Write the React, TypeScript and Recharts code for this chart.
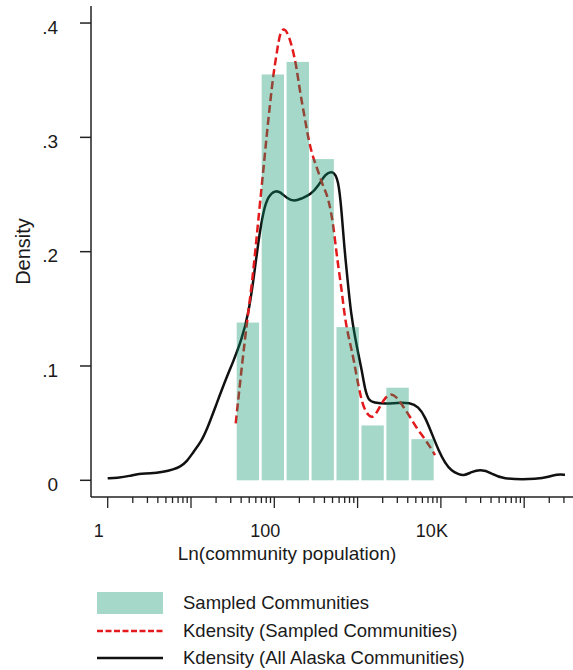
import React from "react";
import {
  ComposedChart,
  Line,
  XAxis,
  YAxis,
  ReferenceArea,
} from "recharts";

// x values are log10(population); the axis shows them as 1, 100, 10K
const binEdges = [1.533, 1.833, 2.132, 2.432, 2.731, 3.031, 3.33, 3.63, 3.929];
const binDensity = [0.138, 0.355, 0.366, 0.281, 0.134, 0.048, 0.081, 0.036];

const allX = [
  0, 0.11, 0.27, 0.37, 0.51, 0.67, 0.79, 0.87, 0.95, 1.03, 1.11, 1.19, 1.31,
  1.43, 1.5, 1.61, 1.69, 1.75, 1.81, 1.87, 1.93, 2.01, 2.07, 2.15, 2.24, 2.33,
  2.43, 2.53, 2.61, 2.7, 2.77, 2.81, 2.84, 2.88, 2.92, 2.97, 3.01, 3.05, 3.09,
  3.13, 3.19, 3.35, 3.47, 3.63, 3.73, 3.81, 3.89, 3.97, 4.05, 4.13, 4.21, 4.27,
  4.37, 4.47, 4.61, 4.71, 5.19, 5.29, 5.39, 5.49,
];
const allDensity = [
  0.0017, 0.002, 0.0038, 0.006, 0.0058, 0.0073, 0.0096, 0.0119, 0.0163, 0.025,
  0.0324, 0.044, 0.0676, 0.0906, 0.1026, 0.1233, 0.146, 0.175, 0.21, 0.2364,
  0.249, 0.2534, 0.2524, 0.2467, 0.2437, 0.2467, 0.2496, 0.2575, 0.268, 0.271,
  0.264, 0.2335, 0.2043, 0.175, 0.146, 0.125, 0.11, 0.0965, 0.079, 0.0702,
  0.0679, 0.0667, 0.0679, 0.0679, 0.0644, 0.0556, 0.0411, 0.0265, 0.0149,
  0.008, 0.0055, 0.0038, 0.0073, 0.0096, 0.0066, 0.0009, 0.0009, 0.0031,
  0.0052, 0.0049,
];

const sampledX = [
  1.537, 1.588, 1.648, 1.696, 1.736, 1.777, 1.808, 1.856, 1.909, 1.948, 1.988,
  2.029, 2.068, 2.12, 2.176, 2.228, 2.269, 2.308, 2.36, 2.408, 2.456, 2.509,
  2.588, 2.629, 2.689, 2.729, 2.768, 2.809, 2.84, 2.881, 2.948, 2.989, 3.029,
  3.068, 3.128, 3.188, 3.248, 3.309, 3.389, 3.469, 3.549, 3.629, 3.709, 3.789,
  3.869, 3.929,
];
const sampledDensity = [
  0.0499, 0.0846, 0.124, 0.152, 0.175, 0.2043, 0.2277, 0.262, 0.302, 0.3287,
  0.355, 0.3735, 0.392, 0.396, 0.389, 0.3749, 0.3604, 0.34, 0.3195, 0.2991,
  0.2845, 0.274, 0.2566, 0.251, 0.2335, 0.21, 0.1868, 0.1665, 0.146, 0.1286,
  0.108, 0.0906, 0.076, 0.0644, 0.0565, 0.0545, 0.0615, 0.0702, 0.0765, 0.0731,
  0.0644, 0.0556, 0.0455, 0.0381, 0.0294, 0.0221,
];

const majorTicks = [0, 1, 2, 3, 4, 5];
const majorLabels = ["1", "", "100", "", "10K", ""];
const yTicks = [0, 0.1, 0.2, 0.3, 0.4];

const xDomain: [number, number] = [-0.2005, 5.586];
const yDomain: [number, number] = [-0.0146, 0.4149];

const minorTicks: number[] = [];
majorTicks.forEach((d) => {
  for (let k = 2; k <= 9; k++) {
    const v = d + Math.log10(k);
    if (v < xDomain[1]) minorTicks.push(v);
  }
});
const xTicks = [...majorTicks, ...minorTicks].sort((a, b) => a - b);

const allData = allX.map((x, i) => ({ x, all: allDensity[i] }));
const sampledData = sampledX.map((x, i) => ({ x, sampled: sampledDensity[i] }));

const colors = {
  bar: "#059366",
  barLegend: "#a5d8c8",
  red: "#e31a1c",
  black: "#111111",
  axis: "#222222",
  text: "#1a1a1a",
};

const font = "'Liberation Sans', Arial, sans-serif";

const XTick = (props: any) => {
  const { x, y, payload } = props;
  const v = payload.value;
  const idx = majorTicks.findIndex((m) => Math.abs(m - v) < 1e-9);
  const major = idx >= 0;
  return (
    <g>
      <line
        x1={x}
        x2={x}
        y1={y}
        y2={y + (major ? 11 : 6)}
        stroke={colors.axis}
        strokeWidth={1.3}
      />
      {major && majorLabels[idx] !== "" && (
        <text
          x={x - 9}
          y={y + 40}
          textAnchor="middle"
          fontSize={18}
          fontFamily={font}
          fill={colors.text}
        >
          {majorLabels[idx]}
        </text>
      )}
    </g>
  );
};

const BinRect = (props: any) => {
  const { x, y, width, height } = props;
  return (
    <rect
      x={x + 1.3}
      y={y}
      width={Math.max(width - 2.6, 0)}
      height={height}
      fill={colors.bar}
      fillOpacity={0.36}
    />
  );
};

const legendText: React.CSSProperties = {
  position: "absolute",
  left: 183,
  fontSize: 18.5,
  fontFamily: font,
  color: colors.text,
  lineHeight: "22px",
  whiteSpace: "nowrap",
};

export default function App() {
  return (
    <div
      style={{
        position: "absolute",
        left: 0,
        top: 0,
        width: 573,
        height: 670,
        background: "#ffffff",
        fontFamily: font,
      }}
    >
      <ComposedChart
        width={573}
        height={670}
        margin={{ top: 6, right: 0, left: 6, bottom: 103 }}
      >
        <XAxis
          type="number"
          dataKey="x"
          domain={xDomain}
          allowDataOverflow
          ticks={xTicks}
          interval={0}
          tick={<XTick />}
          tickLine={false}
          tickSize={0}
          tickMargin={0}
          height={70}
          axisLine={{ stroke: colors.axis, strokeWidth: 1.5 }}
          label={{
            value: "Ln(community population)",
            position: "insideBottom",
            offset: 7,
            dx: -45,
            fontSize: 19,
            fontFamily: font,
            fill: colors.text,
          }}
        />
        <YAxis
          type="number"
          domain={yDomain}
          allowDataOverflow
          ticks={yTicks}
          interval={0}
          width={85}
          tickSize={11}
          tickMargin={22}
          tickFormatter={(v: number) =>
            v === 0 ? "0" : String(v).replace("0.", ".")
          }
          tick={{ fontSize: 19, fill: colors.text, dy: 4, fontFamily: font }}
          tickLine={{ stroke: colors.axis, strokeWidth: 1.5 }}
          axisLine={{ stroke: colors.axis, strokeWidth: 1.5 }}
          label={{
            value: "Density",
            angle: -90,
            position: "center",
            dx: -26,
            fontSize: 20,
            fontFamily: font,
            fill: colors.text,
          }}
        />
        <Line
          data={allData}
          dataKey="all"
          type="basis"
          stroke={colors.black}
          strokeWidth={2.5}
          dot={false}
          activeDot={false}
          isAnimationActive={false}
          zIndex={100}
        />
        <Line
          data={sampledData}
          dataKey="sampled"
          type="basis"
          stroke={colors.red}
          strokeWidth={2.5}
          strokeDasharray="8 4"
          dot={false}
          activeDot={false}
          isAnimationActive={false}
          zIndex={100}
        />
        {binDensity.map((d, i) => (
          <ReferenceArea
            key={i}
            x1={binEdges[i]}
            x2={binEdges[i + 1]}
            y1={0}
            y2={d}
            shape={<BinRect />}
            zIndex={450}
          />
        ))}
      </ComposedChart>

      <div
        style={{
          position: "absolute",
          left: 97,
          top: 592,
          width: 66,
          height: 22,
          background: colors.barLegend,
        }}
      />
      <div style={{ ...legendText, top: 592 }}>Sampled Communities</div>
      <svg
        style={{ position: "absolute", left: 97, top: 626 }}
        width={66}
        height={10}
      >
        <line
          x1={0}
          x2={66}
          y1={5}
          y2={5}
          stroke={colors.red}
          strokeWidth={2.5}
          strokeDasharray="6 2.5"
        />
      </svg>
      <div style={{ ...legendText, top: 620 }}>
        Kdensity (Sampled Communities)
      </div>
      <svg
        style={{ position: "absolute", left: 97, top: 653 }}
        width={66}
        height={10}
      >
        <line
          x1={0}
          x2={66}
          y1={5}
          y2={5}
          stroke={colors.black}
          strokeWidth={2.5}
        />
      </svg>
      <div style={{ ...legendText, top: 647 }}>
        Kdensity (All Alaska Communities)
      </div>
    </div>
  );
}
